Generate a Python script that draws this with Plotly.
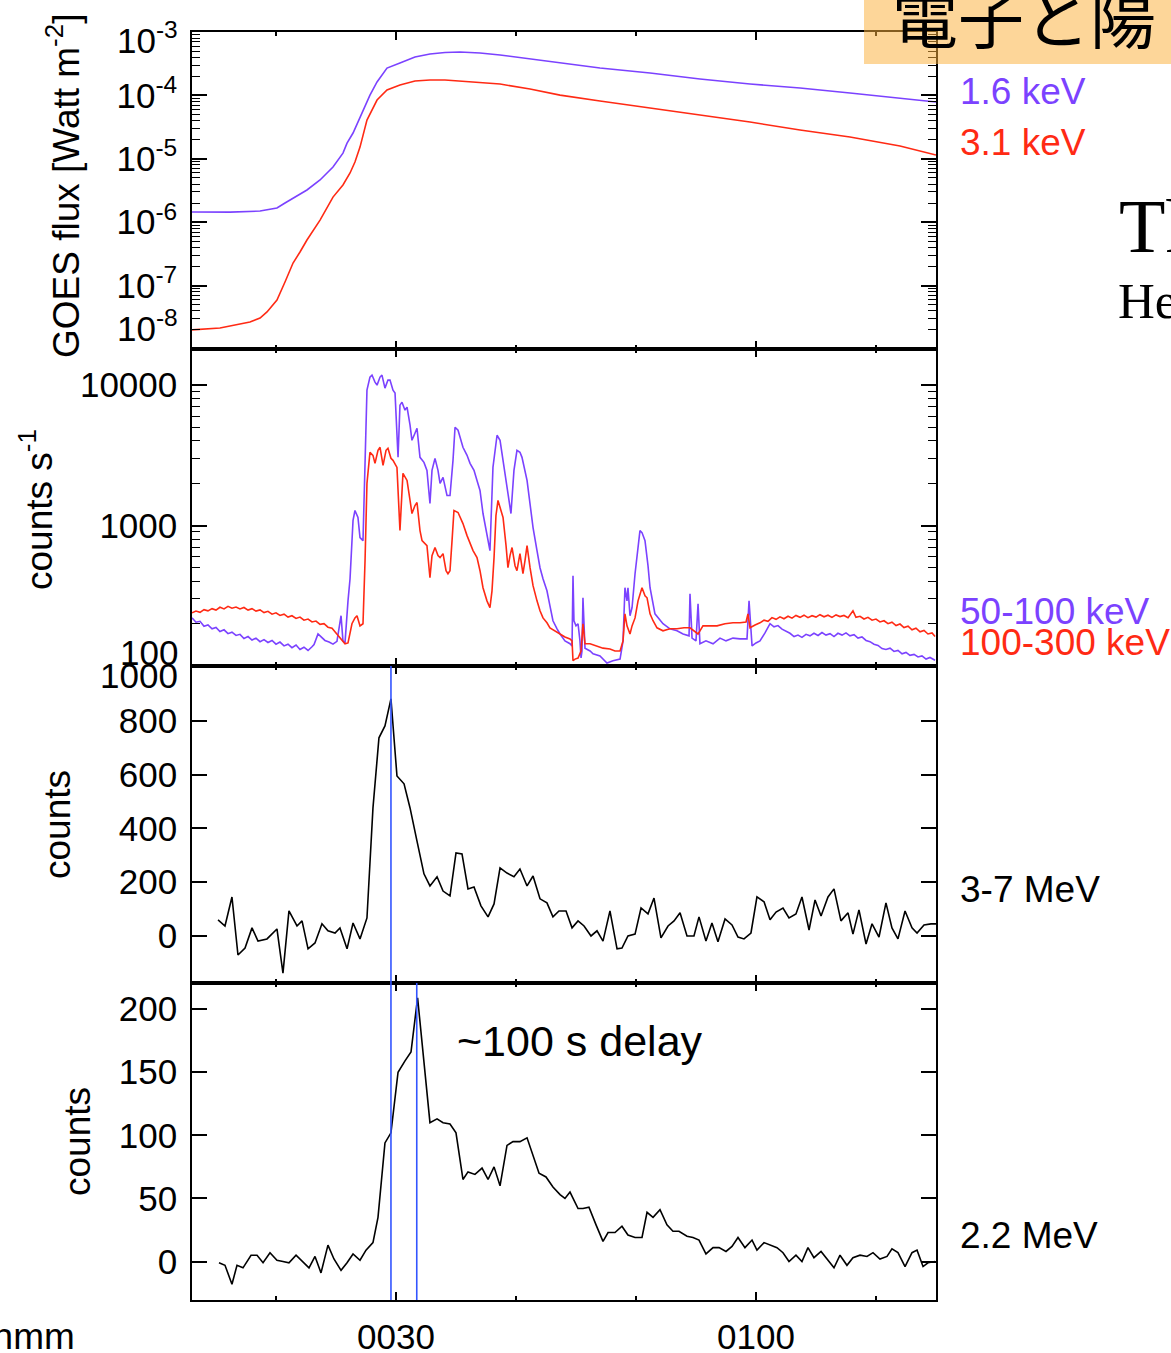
import plotly.graph_objects as go
from plotly.subplots import make_subplots

PURPLE = "#7B42FF"
RED = "#FF2A14"
BLUE = "#3355FF"
SANS = "Liberation Sans, Arial, Helvetica, sans-serif"
SERIF = "Liberation Serif, Times New Roman, serif"
CJK = "Noto Sans CJK JP, Noto Sans CJK SC, sans-serif"

# ---- time axis: minutes after 00:00 UT ----
time_range = [13.0, 75.0]
time_ticks = [30, 60]
time_labels = ["0030", "0100"]
time_minor = [20, 40, 50, 70]

# ---- GOES soft X-ray flux [W m^-2] ----
goes_lo_t = [13.0, 16.17, 18.67, 19.5, 20.08, 20.75, 21.17, 21.83, 22.58, 23.67,
             24.75, 25.58, 25.92, 26.42, 27.25, 27.83, 28.42, 29.25, 30.33, 31.58,
             32.83, 34.08, 35.33, 37.0, 38.67, 41.17, 43.67, 47.0, 51.17, 55.33,
             59.5, 63.67, 67.83, 72.0, 75.0]
goes_lo = [1.45e-6, 1.44e-6, 1.50e-6, 1.58e-6, 1.68e-6, 2.01e-6, 2.24e-6, 2.69e-6, 3.22e-6, 4.63e-6,
           7.43e-6, 1.23e-5, 1.77e-5, 2.55e-5, 5.89e-5, 1.01e-4, 1.63e-4, 2.70e-4, 3.24e-4, 4.03e-4,
           4.50e-4, 4.75e-4, 4.84e-4, 4.67e-4, 4.34e-4, 3.75e-4, 3.24e-4, 2.70e-4, 2.25e-4, 1.81e-4,
           1.51e-4, 1.31e-4, 1.09e-4, 9.1e-5, 7.87e-5]

goes_hi_t = [13.0, 15.33, 17.83, 18.67, 19.25, 20.08, 20.75, 21.42, 22.0, 22.58,
             23.67, 24.75, 25.58, 26.17, 26.58, 27.0, 27.58, 28.42, 29.25, 30.33,
             31.58, 32.83, 34.08, 35.33, 38.67, 41.17, 43.67, 47.0, 51.17, 55.33,
             59.5, 63.67, 67.83, 72.0, 75.0]
goes_hi = [2.0e-8, 2.14e-8, 2.67e-8, 3.08e-8, 3.84e-8, 5.93e-8, 1.14e-7, 2.27e-7, 3.39e-7, 5.24e-7,
           1.08e-6, 2.49e-6, 3.86e-6, 5.97e-6, 8.91e-6, 1.53e-5, 4.09e-5, 8.45e-5, 1.22e-4, 1.46e-4,
           1.69e-4, 1.75e-4, 1.75e-4, 1.69e-4, 1.51e-4, 1.26e-4, 1.01e-4, 8.17e-5, 6.33e-5, 4.91e-5,
           3.80e-5, 2.84e-5, 2.21e-5, 1.59e-5, 1.15e-5]

# ---- hard X-ray count rates [counts s^-1], 50-100 keV ----
hxr_lo_t = [13.0, 13.33, 13.67, 14.0, 14.33, 14.67, 15.0, 15.33, 15.67, 16.0,
            16.33, 16.67, 17.0, 17.33, 17.67, 18.0, 18.33, 18.67, 19.0, 19.33,
            19.67, 20.0, 20.33, 20.67, 21.0, 21.33, 21.67, 22.0, 22.33, 22.67,
            23.0, 23.17, 23.5, 23.83, 24.08, 24.42, 24.75, 25.08, 25.42, 25.58,
            25.75,
            26.0, 26.17, 26.42, 26.58, 26.83, 27.0, 27.25, 27.42, 27.58, 27.83,
            28.0, 28.25, 28.42, 28.67, 28.83, 29.08, 29.33, 29.5, 29.75, 29.92,
            30.17, 30.33, 30.5, 30.75, 30.92, 31.17, 31.33, 31.58, 31.75, 32.0,
            32.33, 32.58, 32.83, 33.0, 33.25, 33.5, 33.67, 33.92, 34.25, 34.5,
            34.75, 34.92, 35.17, 35.58, 35.92, 36.17, 36.5, 36.75, 37.0, 37.25,
            37.58, 37.83, 38.08, 38.42, 38.67, 38.83, 39.08, 39.25, 39.42, 39.58,
            39.83, 40.08, 40.33, 40.5, 40.92, 41.17, 41.42, 41.75, 42.0, 42.25,
            42.58, 42.83, 43.08, 43.42, 43.67, 44.08, 44.5, 44.67, 44.75, 44.83,
            45.0, 45.17, 45.33, 45.42, 45.5, 45.58, 45.75, 46.17, 46.42, 47.0,
            47.58, 48.08, 48.67, 48.92, 49.08, 49.25, 49.33, 49.5, 49.67, 49.92,
            50.17, 50.33, 50.5, 50.75, 51.0, 51.17, 51.58, 52.0, 52.25, 52.83,
            53.42, 53.92, 54.42, 54.5, 54.67, 55.0, 55.17, 55.33, 55.83, 56.42,
            57.0, 57.5, 58.08, 58.67, 59.25, 59.42, 59.67, 60.0, 60.33, 60.75,
            61.17, 61.5, 61.83, 62.17, 62.5, 62.83, 63.17, 63.5, 63.83, 64.17,
            64.5, 64.83, 65.17, 65.5, 65.83, 66.17, 66.5, 66.83, 67.17, 67.5,
            67.83, 68.17, 68.5, 68.83, 69.17, 69.5, 69.83, 70.17, 70.5, 70.83,
            71.17, 71.5, 71.83, 72.17, 72.5, 72.83, 73.17, 73.5, 73.83, 74.17,
            74.5, 74.92]
hxr_lo = [220, 205, 208, 192, 196, 184, 188, 176, 181, 170,
          174, 165, 168, 157, 162, 153, 158, 149, 154, 147,
          152, 143, 148, 139, 143, 135, 141, 131, 136, 129,
          137, 142, 169, 158, 152, 148, 143, 150, 228, 151,
          146,
          291, 418, 1090, 1280, 1141, 821, 781, 2471, 9211, 11406,
          11788, 10506, 10000, 11406, 11788, 9519, 10857, 10857, 9211, 8769,
          3060, 7197, 7560, 6630, 6965, 5179, 4047, 4540, 4932, 3060,
          2818, 2471, 1436, 2471, 3010, 2471, 1995, 2203, 1638, 1638,
          2913, 5012, 4771, 3607, 3162, 2773, 2471, 2096, 1778, 1218,
          848, 663, 2596, 4394, 4047, 3268, 2471, 1995, 1509, 1218,
          2471, 3435, 3322, 3060, 2096, 1389, 968, 663, 501, 418,
          343, 268, 210, 184, 169, 151, 144, 139, 439, 210,
          193, 200, 151, 114, 128, 306, 134, 128, 122, 118,
          105, 109, 112, 151, 361, 291, 361, 228, 260, 454,
          720, 921, 891, 781, 518, 361, 235, 210, 200, 184,
          178, 169, 164, 327, 158, 151, 277, 144, 151, 144,
          158, 151, 158, 156, 156, 291, 139, 146, 151, 172,
          200, 190, 194, 183, 178, 171, 162, 166, 160, 168,
          164, 171, 165, 173, 166, 170, 162, 171, 166, 172,
          164, 167, 158, 161, 152, 149, 143, 140, 133, 131,
          134, 127, 129, 122, 125, 119, 121, 116, 118, 112,
          115, 110]

# ---- hard X-ray count rates [counts s^-1], 100-300 keV ----
hxr_hi_t = [13.0, 13.33, 13.67, 14.0, 14.33, 14.67, 15.0, 15.33, 15.67, 16.0,
            16.33, 16.67, 17.0, 17.33, 17.67, 18.0, 18.33, 18.67, 19.0, 19.33,
            19.67, 20.0, 20.33, 20.67, 21.0, 21.33, 21.67, 22.0, 22.33, 22.67,
            23.0, 23.33, 23.67, 24.0, 24.33, 24.67, 25.0, 25.33,
            25.75, 26.0, 26.33,
            26.58, 26.75, 27.0, 27.25, 27.42, 27.58, 27.83, 28.08, 28.25, 28.5,
            28.67, 28.92, 29.17, 29.33, 29.58, 29.75, 30.08, 30.33, 30.58, 30.75,
            30.92, 31.17, 31.33, 31.58, 31.75, 32.0, 32.17, 32.58, 32.83, 33.0,
            33.25, 33.5, 33.67, 33.92, 34.17, 34.33, 34.5, 34.67, 34.83, 35.17,
            35.58, 35.92, 36.17, 36.42, 36.75, 37.0, 37.25, 37.58, 37.83, 38.0,
            38.17, 38.33, 38.5, 38.75, 38.92, 39.17, 39.33, 39.5, 39.67, 39.92,
            40.08, 40.33, 40.58, 40.75, 40.92, 41.17, 41.42, 41.75, 42.0, 42.25,
            42.58, 42.83, 43.25, 43.67, 44.08, 44.5, 44.67, 44.75, 44.92, 45.17,
            45.42, 45.58, 45.75, 46.17, 46.75, 47.25, 47.83, 48.25, 48.67, 48.92,
            49.08, 49.25, 49.5, 49.67, 49.92, 50.17, 50.5, 50.75, 50.92, 51.17,
            51.42, 51.75, 52.25, 52.83, 53.42, 54.0, 54.5, 54.83, 55.17, 55.33,
            55.58, 56.17, 56.75, 57.42, 58.08, 58.67, 59.17, 59.33, 59.5, 59.92,
            60.33, 60.67, 61.0, 61.33, 61.67, 62.0, 62.33, 62.67, 63.0, 63.33,
            63.67, 64.0, 64.33, 64.67, 65.0, 65.33, 65.67, 66.0, 66.33, 66.67,
            67.0, 67.33, 67.67, 68.08, 68.33, 68.67, 69.0, 69.33, 69.67, 70.0,
            70.33, 70.67, 71.0, 71.33, 71.67, 72.0, 72.33, 72.67, 73.0, 73.33,
            73.67, 74.0, 74.33, 74.67, 74.92]
hxr_hi = [239, 246, 241, 252, 247, 256, 250, 262, 255, 266,
          258, 263, 255, 261, 250, 256, 246, 251, 240, 245,
          234, 239, 229, 234, 223, 228, 218, 223, 212, 216,
          206, 209, 198, 200, 189, 186, 172, 158,
          144, 146, 200,
          220, 228, 193, 200, 562, 1995, 3322, 3162, 2773, 3435,
          3607, 2683, 3435, 3548, 3010, 2913, 2596, 921, 2352, 2203,
          2096, 1509, 1218, 1389, 1460, 921, 781, 720, 425, 611,
          697, 611, 591, 631, 477, 454, 477, 781, 1280, 1238,
          1033, 848, 743, 663, 591, 477, 361, 291, 260, 343,
          591, 1179, 1509, 1280, 1141, 720, 501, 611, 697, 518,
          477, 631, 454, 562, 720, 501, 373, 291, 247, 220,
          203, 187, 178, 169, 161, 156, 151, 109, 112, 114,
          128, 200, 144, 144, 139, 134, 132, 128, 128, 151,
          235, 193, 169, 193, 220, 291, 361, 316, 306, 235,
          210, 187, 178, 184, 184, 187, 187, 178, 169, 178,
          193, 193, 193, 200, 203, 203, 206, 235, 187, 196,
          203, 212, 208, 221, 215, 224, 217, 226, 219, 229,
          222, 230, 221, 228, 223, 232, 224, 230, 222, 231,
          225, 229, 221, 247, 222, 226, 216, 222, 212, 216,
          206, 210, 200, 205, 194, 199, 188, 192, 181, 186,
          175, 179, 169, 172, 162]

# ---- gamma-ray counts, 3-7 MeV ----
g37_t = [15.17, 15.75, 16.33, 16.83, 17.42, 18.0, 18.5, 19.25, 20.08, 20.58,
         21.08, 21.75, 22.17, 22.67, 23.25, 23.83, 24.33, 24.92, 25.33, 25.92,
         26.42, 27.0, 27.58, 27.83, 28.08, 28.58, 29.08, 29.58, 30.08, 30.67,
         31.17, 31.75, 32.33, 32.83, 33.42, 33.92, 34.5, 35.0, 35.5, 36.0,
         36.5, 37.08, 37.67, 38.17, 38.67, 39.25, 39.83, 40.33, 40.92, 41.42,
         42.0, 42.58, 43.08, 43.58, 44.17, 44.67, 45.17, 45.67, 46.25, 46.75,
         47.25, 47.83, 48.42, 48.83, 49.33, 49.92, 50.42, 51.0, 51.5, 52.08,
         52.67, 53.17, 53.67, 54.25, 54.83, 55.25, 55.83, 56.33, 56.83, 57.42,
         58.0, 58.5, 59.0, 59.58, 60.08, 60.67, 61.17, 61.67, 62.25, 62.75,
         63.33, 63.83, 64.42, 64.92, 65.42, 66.0, 66.5, 67.08, 67.67, 68.08,
         68.58, 69.17, 69.67, 70.25, 70.83, 71.33, 71.83, 72.42, 73.0, 73.42,
         74.0, 74.58, 75.0]
g37 = [60, 37, 145, -71, -45, 30, -19, -11, 26, -138,
       93, 37, 56, -48, -26, 45, 19, 11, 30, -48,
       48, -11, 67, 279, 476, 737, 781, 882, 595, 566,
       476, 353, 231, 186, 220, 167, 149, 309, 305, 175,
       182, 112, 71, 119, 253, 234, 220, 249, 186, 223,
       138, 123, 71, 93, 93, 30, 56, 37, 0, 19,
       -19, 93, -48, -45, 0, 7, 104, 82, 141, -7,
       37, 56, 86, 0, 0, 71, -19, 48, -22, 63,
       41, -4, -11, 11, 145, 127, 60, 89, 104, 67,
       82, 145, 22, 134, 74, 145, 175, 56, 86, 7,
       97, -30, 45, -4, 123, 30, -11, 93, 30, 11,
       41, 45, 45]

# ---- gamma-ray counts, 2.2 MeV neutron-capture line ----
g22_t = [15.25, 15.75, 16.33, 16.75, 17.25, 17.92, 18.42, 18.92, 19.5, 20.08,
         20.58, 21.08, 21.67, 22.17, 22.75, 23.25, 23.75, 24.33, 24.83, 25.42,
         25.92, 26.42, 27.0, 27.5, 28.08, 28.5, 29.08, 29.58, 30.17, 30.75,
         31.25, 31.8, 32.83, 33.42, 33.92, 34.5, 35.0, 35.58, 36.0, 36.58,
         37.17, 37.67, 38.17, 38.67, 39.25, 39.75, 40.33, 40.92, 41.42, 41.92,
         42.5, 43.08, 43.67, 44.08, 44.5, 45.17, 45.58, 46.08, 46.67, 47.25,
         47.67, 48.25, 48.83, 49.33, 49.92, 50.5, 50.92, 51.42, 52.0, 52.58,
         53.08, 53.58, 54.25, 54.75, 55.25, 55.83, 56.42, 56.92, 57.5, 58.0,
         58.5, 59.08, 59.67, 60.08, 60.67, 61.25, 61.75, 62.25, 62.75, 63.33,
         63.83, 64.33, 64.83, 65.42, 65.92, 66.5, 67.0, 67.58, 68.08, 68.67,
         69.25, 69.75, 70.33, 70.92, 71.33, 71.83, 72.42, 73.0, 73.42, 73.92,
         74.33, 74.92]
g22 = [-1, -3, -18, -3, -5, 5, 5, -1, 7, 1,
       0, -1, 5, 0, -5, 4, -9, 13, 2, -7,
       -1, 6, 1, 9, 15, 35, 94, 102, 150, 159,
       166, 209, 110, 113, 110, 109, 102, 65, 71, 69,
       74, 65, 75, 60, 92, 95, 95, 98, 84, 70,
       67, 59, 53, 50, 55, 42, 42, 43, 29, 16,
       23, 23, 28, 21, 19, 19, 39, 35, 41, 29,
       24, 24, 20, 19, 17, 6, 11, 11, 8, 12,
       19, 11, 17, 9, 15, 13, 11, 7, 0, 5,
       0, 11, 3, 8, 2, -5, 5, -3, 3, 5,
       4, 7, 2, 4, 10, 7, -4, 7, 9, -4,
       -1, 0]

# peak times marked by vertical lines (minutes)
peak_37 = 29.58
peak_22 = 31.73

for a, b in [(goes_lo_t, goes_lo), (goes_hi_t, goes_hi), (hxr_lo_t, hxr_lo),
             (hxr_hi_t, hxr_hi), (g37_t, g37), (g22_t, g22)]:
    assert len(a) == len(b), (len(a), len(b))

# ---- figure geometry (pixels) ----
W, H = 1171, 1353
L, R, T, B = 192, 936, 32, 1300


def px(xp):
    return (xp - L) / (R - L)


def py(yp):
    return (B - yp) / (B - T)


fig = make_subplots(rows=4, cols=1, shared_xaxes=True, vertical_spacing=0)

fig.add_trace(go.Scatter(x=goes_lo_t, y=goes_lo, mode="lines",
                         line=dict(color=PURPLE, width=1.6)), 1, 1)
fig.add_trace(go.Scatter(x=goes_hi_t, y=goes_hi, mode="lines",
                         line=dict(color=RED, width=1.6)), 1, 1)
fig.add_trace(go.Scatter(x=hxr_lo_t, y=hxr_lo, mode="lines",
                         line=dict(color=PURPLE, width=1.6)), 2, 1)
fig.add_trace(go.Scatter(x=hxr_hi_t, y=hxr_hi, mode="lines",
                         line=dict(color=RED, width=1.6)), 2, 1)
fig.add_trace(go.Scatter(x=g37_t, y=g37, mode="lines",
                         line=dict(color="black", width=1.6)), 3, 1)
fig.add_trace(go.Scatter(x=g22_t, y=g22, mode="lines",
                         line=dict(color="black", width=1.6)), 4, 1)

frame = dict(showline=True, linecolor="black", linewidth=1.5, mirror="allticks",
             ticks="inside", tickcolor="black", tickwidth=1.5, showgrid=False,
             zeroline=False, automargin=False,
             tickfont=dict(family=SANS, size=35, color="black"))

fig.update_xaxes(**frame, range=time_range, tickmode="array", tickvals=time_ticks,
                 ticktext=time_labels, ticklen=8, ticklabelstandoff=5,
                 minor=dict(tickmode="array", tickvals=time_minor, ticks="inside",
                            ticklen=4, tickwidth=1.5, tickcolor="black"))

goes_minor = [m * 10.0 ** e for e in range(-8, -3) for m in range(2, 10)]
hxr_minor = [m * 10.0 ** e for e in (2, 3) for m in range(2, 10)]

fig.update_yaxes(**frame, row=1, col=1, type="log", range=[-8, -3],
                 tickvals=[1e-7, 1e-6, 1e-5, 1e-4],
                 ticktext=["10<sup>-7</sup>", "10<sup>-6</sup>", "10<sup>-5</sup>", "10<sup>-4</sup>"],
                 ticklen=15, ticklabelstandoff=6,
                 minor=dict(tickmode="array", tickvals=goes_minor, ticks="inside",
                            ticklen=8, tickwidth=1.2, tickcolor="black"))
fig.update_yaxes(**frame, row=2, col=1, type="log", range=[2, 4.257],
                 tickvals=[1000, 10000], ticktext=["1000", "10000"],
                 ticklen=15, ticklabelstandoff=6,
                 minor=dict(tickmode="array", tickvals=hxr_minor, ticks="inside",
                            ticklen=8, tickwidth=1.2, tickcolor="black"))
fig.update_yaxes(**frame, row=3, col=1, range=[-175, 1004],
                 tickvals=[0, 200, 400, 600, 800], ticklen=15, ticklabelstandoff=6)
fig.update_yaxes(**frame, row=4, col=1, range=[-30.5, 220.7],
                 tickvals=[0, 50, 100, 150, 200], ticklen=15, ticklabelstandoff=6)

# vertical markers at the gamma-ray peaks
fig.add_shape(type="line", xref="x", yref="paper", x0=peak_37, x1=peak_37,
              y0=0, y1=0.5, line=dict(color=BLUE, width=1.6))
fig.add_shape(type="line", xref="x", yref="paper", x0=peak_22, x1=peak_22,
              y0=0, y1=0.25, line=dict(color=BLUE, width=1.6))

# title banner
fig.add_shape(type="rect", xref="paper", yref="paper", layer="above",
              x0=px(864), x1=px(1180), y0=py(64), y1=py(-5),
              fillcolor="rgba(251,176,59,0.52)", line=dict(width=0))


def note(text, x, y, size=37, color="black", xanchor="left", angle=0, family=SANS):
    fig.add_annotation(text=text, x=px(x), y=py(y), xref="paper", yref="paper",
                       xanchor=xanchor, yanchor="middle", showarrow=False,
                       textangle=angle, font=dict(family=family, size=size, color=color))


# axis labels drawn at the panel edges
note("10<sup>-3</sup>", 180, 38, size=35, xanchor="right")
note("10<sup>-8</sup>", 180, 326, size=35, xanchor="right")
note("100", 180, 652, size=35, xanchor="right")
note("1000", 180, 676, size=35, xanchor="right")

# axis titles
note("GOES flux [Watt m<sup>-2</sup>]", 63, 186, angle=-90, xanchor="center")
note("counts s<sup>-1</sup>", 36, 510, angle=-90, xanchor="center")
note("counts", 57, 825, angle=-90, xanchor="center")
note("counts", 77, 1142, angle=-90, xanchor="center")
note("hhmm", 77, 1336, xanchor="right")

# channel labels
note("1.6 keV", 958, 91, color=PURPLE)
note("3.1 keV", 958, 142, color=RED)
note("50-100 keV", 958, 611, color=PURPLE)
note("100-300 keV", 958, 642, color=RED)
note("3-7 MeV", 958, 889)
note("2.2 MeV", 958, 1235)
note("~100 s delay", 455, 1041, size=43)

# slide text around the figure
note("電子と陽", 890, 14, size=66, family=CJK)
note("Th", 1117, 226, size=76, family=SERIF)
note("He", 1116, 301, size=51, family=SERIF)

fig.update_layout(width=W, height=H, autosize=False, showlegend=False,
                  margin=dict(l=L, r=W - R, t=T, b=H - B),
                  paper_bgcolor="white", plot_bgcolor="white")

fig.write_html("out.html")
